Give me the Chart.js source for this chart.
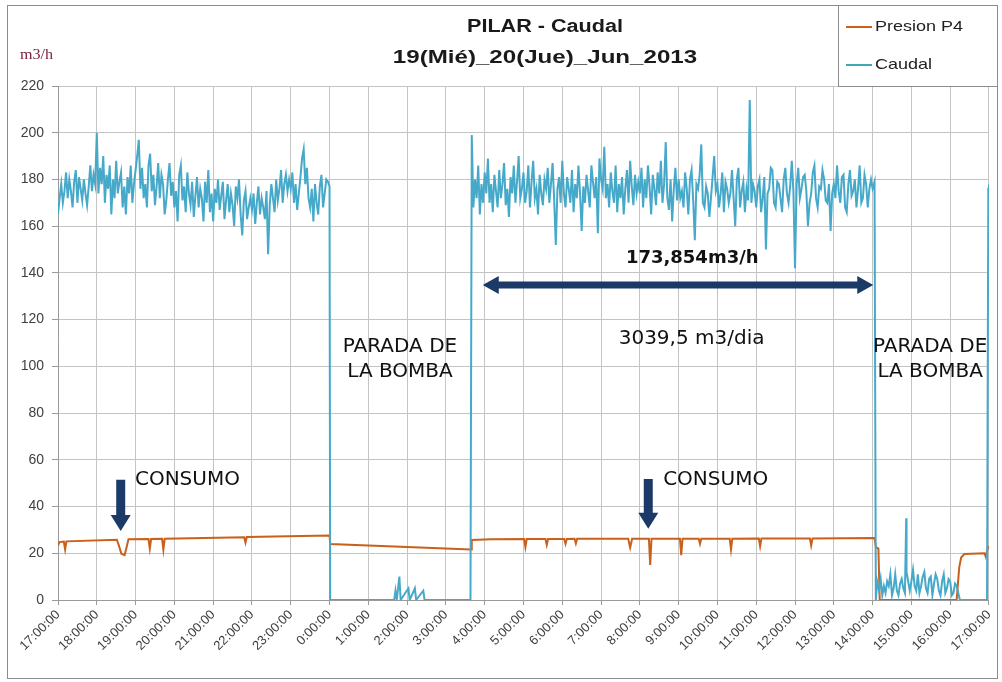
<!DOCTYPE html>
<html>
<head>
<meta charset="utf-8">
<title>PILAR - Caudal</title>
<script src="https://cdn.jsdelivr.net/npm/chart.js@4.4.1/dist/chart.umd.min.js"></script>
<style>
  html, body { margin: 0; padding: 0; background: #fff; }
  #wrap { position: relative; width: 1002px; height: 682px; }
</style>
</head>
<body>
<div id="wrap"><canvas id="chart" width="1002" height="682"></canvas></div>
<script>
const SAMPLE_MIN = 2.5;

const hourLabels = [
  '17:00:00', '18:00:00', '19:00:00', '20:00:00', '21:00:00', '22:00:00', '23:00:00',
  '0:00:00', '1:00:00', '2:00:00', '3:00:00', '4:00:00', '5:00:00', '6:00:00',
  '7:00:00', '8:00:00', '9:00:00', '10:00:00', '11:00:00', '12:00:00', '13:00:00',
  '14:00:00', '15:00:00', '16:00:00', '17:00:00',
];

// caudal (m3/h), one reading every 2.5 min, pump running 17:00 -> 0:00
const caudalRun1Start = '17:00';
const caudalRun1 = [
  165, 172, 178, 170, 175, 183, 172, 180, 175, 168, 179, 184, 170, 181, 176, 171, 180, 174, 169, 177, 186, 175, 182, 178,
  200, 174, 185, 178, 190, 170, 182, 176, 186, 165, 180, 172, 188, 174, 179, 183, 168, 177, 165, 181, 174, 186, 170, 178,
  184, 190, 197, 176, 185, 172, 178, 168, 186, 191, 175, 182, 169, 177, 187, 172, 182, 178, 165, 171, 180, 187, 173, 179,
  168, 175, 162, 182, 186, 171, 177, 166, 183, 174, 169, 179, 164, 173, 181, 168, 176, 172, 162, 179, 170, 184, 166, 174,
  162, 176, 170, 180, 167, 173, 179, 163, 171, 178, 166, 174, 169, 160, 177, 172, 180, 165, 156, 171, 175, 163, 168, 172,
  167, 174, 161, 170, 177, 165, 172, 168, 163, 175, 148, 169, 178, 172, 166, 180, 171, 176, 184, 170, 178, 182, 175, 180,
  176, 183, 170, 178, 167, 174, 181, 189, 193, 178, 185, 172, 168, 176, 162, 178, 170, 165, 177, 182, 168, 174, 180, 179,
];

// pump running 3:40 -> 14:00
const caudalRun2Start = '3:40';
const caudalRun2 = [
  199, 168, 180, 172, 186, 165, 178, 170,
  183, 174, 189, 170, 178, 166, 182, 175, 168, 184, 172, 178, 187, 169, 176, 164, 181, 174, 186, 170, 179, 190, 172, 176,
  183, 170, 175, 186, 168, 179, 188, 172, 176, 165, 182, 174, 169, 180, 176, 185, 170, 178, 187, 171, 152, 176, 181, 170,
  188, 174, 168, 181, 176, 170, 184, 166, 178, 172, 186, 174, 158, 177, 170, 182, 175, 168, 186, 179, 172, 181, 157, 189,
  180, 176, 194, 172, 178, 168, 183, 175, 170, 186, 166, 178, 172, 181, 165, 176, 184, 170, 188, 177, 169, 182, 174, 179,
  174, 185, 168, 180, 172, 186, 177, 165, 182, 176, 169, 183, 174, 188, 170, 178, 196, 172, 167, 180, 162, 176, 185, 171,
  180, 172, 175, 168, 183, 176, 165, 180, 184, 171, 154, 178, 176, 182, 195, 170, 168, 177, 174, 164, 172, 181, 190, 175,
  178, 168, 174, 183, 166, 179, 176, 170, 174, 184, 172, 160, 180, 185, 168, 175, 179, 166, 176, 171, 214, 170, 178, 175,
  168, 177, 180, 166, 172, 181, 150, 174, 176, 185, 184, 170, 168, 179, 178, 172, 166, 180, 185, 174, 170, 177, 188, 175,
  142, 178, 185, 172, 176, 181, 182, 175, 160, 170, 174, 183, 186, 172, 168, 177, 176, 184, 180, 171, 170, 178, 158, 174,
  178, 172, 186, 175, 170, 181, 182, 168, 166, 178, 184, 173, 175, 180, 168, 176, 186, 170, 172, 182, 178, 168, 176, 180,
];

// residual flow after the stop, 14:10 -> 16:10
const caudalLowStart = '14:10';
const caudalLow = [
  4, 9, 2, 6, 3, 8, 6, 11, 2, 5, 11, 4, 2, 7, 9, 5, 3, 12, 8, 4, 8, 13, 6, 4, 11,
  3, 6, 10, 12, 5, 3, 9, 10, 2, 7, 11, 9, 4, 2, 8, 11, 3, 5, 9, 8, 2, 3, 7, 6,
];

// single readings around the stops
const caudalEventTimes = [
  '0:00', '0:01', '1:40', '1:42', '1:44', '1:48', '1:50', '2:02', '2:04', '2:12', '2:14',
  '2:25', '2:27', '3:38', '14:00', '14:03', '14:05', '14:07', '14:52', '16:15', '16:57',
  '16:59', '17:00',
];
const caudalEventValues = [
  177, 0, 0, 4, 0, 10, 0, 5, 0, 5, 0,
  4, 0, 0, 176, 179, 0, 8, 35, 0, 0,
  176, 178,
];

// Presion P4
const presionTimes = [
  '17:00', '17:02', '17:09', '17:11', '17:13', '18:31', '18:34', '18:38', '18:43', '18:46',
  '18:49', '19:20', '19:22', '19:24', '19:41', '19:43', '19:45', '21:48', '21:50', '21:52',
  '0:00', '0:01', '3:39', '3:40', '4:10', '5:01', '5:03', '5:05', '5:34', '5:36',
  '5:38', '6:03', '6:05', '6:07', '6:19', '6:21', '6:23', '7:42', '7:45', '7:48',
  '8:14', '8:16', '8:18', '9:02', '9:04', '9:06', '9:31', '9:33', '9:35', '10:19',
  '10:21', '10:23', '11:04', '11:06', '11:08', '12:23', '12:25', '12:27', '14:03', '14:05',
  '14:09', '14:11', '16:10', '16:12', '16:14', '16:17', '16:22', '16:53', '16:55', '16:58',
  '17:00',
];
const presionValues = [
  23.2, 24.8, 25, 21.6, 25.1, 25.8, 23.5, 19.8, 19.2, 22.5,
  26, 26.1, 22, 26.1, 26.2, 21.5, 26.2, 26.9, 24.6, 27,
  27.6, 24, 21.6, 25.7, 26, 26.1, 22.6, 26.1, 26.1, 23.6,
  26.1, 26.1, 24, 26.1, 26.2, 24.2, 26.2, 26.2, 22.4, 26.2,
  26.2, 15, 26.2, 26.2, 19.2, 26.2, 26.2, 24, 26.2, 26.2,
  21.6, 26.2, 26.3, 23, 26.3, 26.3, 23.3, 26.3, 26.5, 22.6,
  22, 0, 0, 7, 14, 18.2, 19.7, 20, 18.5, 22,
  23,
];

const NAVY = '#1b3a68';
const ORANGE = '#c9601c';
const TEAL = '#46a9c9';

// minutes since 17:00 on the 19th
function toMin(t, notFirst) {
  const [h, m] = t.split(':').map(Number);
  let v = h * 60 + m - 17 * 60;
  if (v < 0 || (notFirst && v === 0)) v += 1440;
  return v;
}

function run(start, values) {
  const s = toMin(start);
  return values.map((y, i) => ({ x: s + i * SAMPLE_MIN, y }));
}

function pairs(times, values) {
  return times.map((t, i) => ({ x: toMin(t, i > 0), y: values[i] }));
}

const caudalPoints = [
  ...run(caudalRun1Start, caudalRun1),
  ...run(caudalRun2Start, caudalRun2),
  ...run(caudalLowStart, caudalLow),
  ...pairs(caudalEventTimes, caudalEventValues),
].sort((a, b) => a.x - b.x);

const presionPoints = pairs(presionTimes, presionValues);

function wideText(ctx, text, x, y, font, color, align, sx) {
  ctx.save();
  ctx.font = font;
  ctx.fillStyle = color;
  ctx.textAlign = align;
  ctx.textBaseline = 'middle';
  ctx.translate(x, y);
  ctx.scale(sx, 1);
  ctx.fillText(text, 0, 0);
  ctx.restore();
}

function downArrow(ctx, x, yTop, yTip) {
  const head = 16;
  ctx.beginPath();
  ctx.rect(x - 4.5, yTop, 9, yTip - yTop - head);
  ctx.moveTo(x - 10, yTip - head);
  ctx.lineTo(x + 10, yTip - head);
  ctx.lineTo(x, yTip);
  ctx.closePath();
  ctx.fill();
}

function doubleArrow(ctx, x1, x2, y) {
  const head = 16;
  ctx.beginPath();
  ctx.rect(x1 + head, y - 3.5, x2 - x1 - 2 * head, 7);
  ctx.moveTo(x1, y);
  ctx.lineTo(x1 + head, y - 9);
  ctx.lineTo(x1 + head, y + 9);
  ctx.closePath();
  ctx.moveTo(x2, y);
  ctx.lineTo(x2 - head, y - 9);
  ctx.lineTo(x2 - head, y + 9);
  ctx.closePath();
  ctx.fill();
}

const decorations = {
  id: 'decorations',
  beforeDraw(chart) {
    const { ctx } = chart;
    ctx.save();
    ctx.fillStyle = '#fff';
    ctx.fillRect(0, 0, chart.width, chart.height);
    ctx.restore();
  },
  afterDatasetsDraw(chart) {
    const { ctx } = chart;
    const x = chart.scales.x;
    const y = chart.scales.y;
    const px = (t) => x.getPixelForValue(toMin(t));
    const py = (v) => y.getPixelForValue(v);

    ctx.save();
    ctx.fillStyle = NAVY;
    doubleArrow(ctx, px('3:57'), px('14:01'), py(134.8));
    downArrow(ctx, px('18:37'), py(51.5), py(29.5));
    downArrow(ctx, px('8:13'), py(51.8), py(30.5));
    ctx.restore();

    const note = '20px "DejaVu Sans"';
    const ink = '#111';
    wideText(ctx, 'CONSUMO', px('18:59'), py(51.6), note, ink, 'left', 1);
    wideText(ctx, 'CONSUMO', px('8:36'), py(51.6), note, ink, 'left', 1);
    wideText(ctx, 'PARADA DE', px('1:49'), py(108.3), note, ink, 'center', 1);
    wideText(ctx, 'LA BOMBA', px('1:49'), py(97.6), note, ink, 'center', 1);
    wideText(ctx, 'PARADA DE', px('15:29'), py(108.3), note, ink, 'center', 1);
    wideText(ctx, 'LA BOMBA', px('15:29'), py(97.6), note, ink, 'center', 1);
    wideText(ctx, '173,854m3/h', px('9:21'), py(146.2), 'bold 18px "DejaVu Sans"', ink, 'center', 1);
    wideText(ctx, '3039,5 m3/dia', px('9:20'), py(112), '20px "DejaVu Sans"', ink, 'center', 1);
  },
  afterDraw(chart) {
    const { ctx } = chart;
    const title = 'bold 18px "Liberation Sans"';
    wideText(ctx, 'PILAR - Caudal', 545, 27, title, '#1a1a1a', 'center', 1.2);
    wideText(ctx, '19(Mié)_20(Jue)_Jun_2013', 545, 58, title, '#1a1a1a', 'center', 1.34);
    wideText(ctx, 'm3/h', 20, 55, '14px "Liberation Serif"', '#7a2040', 'left', 1.15);

    ctx.save();
    ctx.strokeStyle = '#8c8c8c';
    ctx.lineWidth = 1;
    ctx.strokeRect(7.5, 5.5, 990, 673);
    ctx.strokeRect(838.5, 5.5, 159, 81);
    ctx.lineWidth = 2;
    ctx.strokeStyle = ORANGE;
    ctx.beginPath();
    ctx.moveTo(846, 27);
    ctx.lineTo(872, 27);
    ctx.stroke();
    ctx.strokeStyle = '#3fa6b4';
    ctx.beginPath();
    ctx.moveTo(846, 65);
    ctx.lineTo(872, 65);
    ctx.stroke();
    ctx.restore();
    wideText(ctx, 'Presion P4', 875, 27, '15px "Liberation Sans"', '#222', 'left', 1.2);
    wideText(ctx, 'Caudal', 875, 65, '15px "Liberation Sans"', '#222', 'left', 1.2);
  },
};

const ctx = document.getElementById('chart').getContext('2d');
new Chart(ctx, {
  type: 'line',
  data: {
    datasets: [{
      label: 'Caudal',
      data: caudalPoints,
      borderColor: TEAL,
      borderWidth: 2,
      pointRadius: 0,
      tension: 0,
    }, {
      label: 'Presion P4',
      data: presionPoints,
      borderColor: ORANGE,
      borderWidth: 2,
      pointRadius: 0,
      tension: 0,
    }],
  },
  options: {
    responsive: false,
    animation: false,
    layout: { padding: { left: 0, right: 10, top: 86, bottom: 10 } },
    plugins: {
      legend: { display: false },
      tooltip: { enabled: false },
    },
    scales: {
      x: {
        type: 'linear',
        min: 0,
        max: 1440,
        afterFit(scale) { scale.height = 72; },
        grid: { color: '#c4c4c4', tickLength: 5, tickColor: '#9a9a9a' },
        border: { color: '#9a9a9a' },
        ticks: {
          stepSize: 60,
          autoSkip: false,
          minRotation: 45,
          maxRotation: 45,
          padding: 2,
          color: '#404040',
          font: { family: 'Liberation Sans', size: 13 },
          callback: (v) => hourLabels[v / 60],
        },
      },
      y: {
        min: 0,
        max: 220,
        afterFit(scale) { scale.width = 58; },
        grid: { color: '#c4c4c4', tickLength: 6, tickColor: '#9a9a9a' },
        border: { color: '#9a9a9a' },
        ticks: {
          stepSize: 20,
          padding: 8,
          color: '#404040',
          font: { family: 'Liberation Sans', size: 14 },
        },
      },
    },
  },
  plugins: [decorations],
});
</script>
</body>
</html>
